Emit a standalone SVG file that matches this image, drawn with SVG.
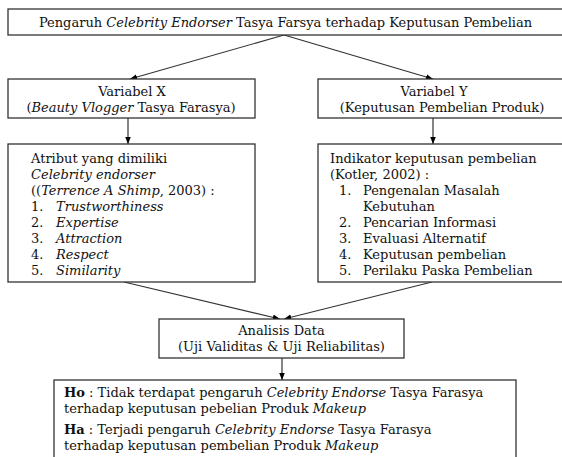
<svg xmlns="http://www.w3.org/2000/svg" width="562" height="457" viewBox="0 0 562 457">
<defs>
<marker id="ah" viewBox="0 0 10 10" refX="10" refY="5" markerWidth="6" markerHeight="6" orient="auto">
<path d="M0,1 L10,5 L0,9 z" fill="#000"/>
</marker>
<style>
.box{fill:#fff;stroke:#333;stroke-width:1.3}
.t{font-family:"DejaVu Serif","Liberation Serif",serif;font-size:13px;fill:#111}
.c{text-anchor:middle}
.i{font-style:italic}
.b{font-weight:bold}
.con{stroke:#333;stroke-width:1.2;fill:none;marker-end:url(#ah)}
</style>
</defs>
<rect width="562" height="457" fill="#fff"/>
<g id="connectors">
<line class="con" x1="284" y1="35" x2="130" y2="79"/>
<line class="con" x1="284" y1="35" x2="433" y2="79"/>
<line class="con" x1="128" y1="118" x2="128" y2="144"/>
<line class="con" x1="433" y1="118" x2="433" y2="144"/>
<line class="con" x1="124" y1="282" x2="280" y2="319"/>
<line class="con" x1="432" y1="282" x2="284" y2="319"/>
<line class="con" x1="282" y1="358" x2="282" y2="380"/>
</g>
<g id="title">
<rect class="box" x="8" y="9" width="560" height="26"/>
<text class="t c" x="285.5" y="27">Pengaruh <tspan class="i">Celebrity Endorser</tspan> Tasya Farsya terhadap Keputusan Pembelian</text>
</g>
<g id="varX">
<rect class="box" x="8" y="79" width="247" height="39"/>
<text class="t c" x="132" y="96">Variabel X</text>
<text class="t c" x="131" y="112">(<tspan class="i">Beauty Vlogger</tspan> Tasya Farasya)</text>
</g>
<g id="varY">
<rect class="box" x="318" y="79" width="250" height="39"/>
<text class="t c" x="434" y="96">Variabel Y</text>
<text class="t c" x="442" y="112">(Keputusan Pembelian Produk)</text>
</g>
<g id="atribut">
<rect class="box" x="8" y="144" width="247" height="138"/>
<text class="t" x="31" y="163">Atribut yang dimiliki</text>
<text class="t i" x="31" y="179">Celebrity endorser</text>
<text class="t" x="31" y="195">((<tspan class="i">Terrence A Shimp</tspan>, 2003) :</text>
<text class="t" x="31" y="211">1.</text><text class="t i" x="56" y="211">Trustworthiness</text>
<text class="t" x="31" y="227">2.</text><text class="t i" x="56" y="227">Expertise</text>
<text class="t" x="31" y="243">3.</text><text class="t i" x="56" y="243">Attraction</text>
<text class="t" x="31" y="259">4.</text><text class="t i" x="56" y="259">Respect</text>
<text class="t" x="31" y="275">5.</text><text class="t i" x="56" y="275">Similarity</text>
</g>
<g id="indikator">
<rect class="box" x="318" y="144" width="250" height="138"/>
<text class="t" x="330" y="163">Indikator keputusan pembelian</text>
<text class="t" x="330" y="179">(Kotler, 2002) :</text>
<text class="t" x="339" y="195">1.</text><text class="t" x="363" y="195">Pengenalan Masalah</text>
<text class="t" x="363" y="211">Kebutuhan</text>
<text class="t" x="339" y="227">2.</text><text class="t" x="363" y="227">Pencarian Informasi</text>
<text class="t" x="339" y="243">3.</text><text class="t" x="363" y="243">Evaluasi Alternatif</text>
<text class="t" x="339" y="259">4.</text><text class="t" x="363" y="259">Keputusan pembelian</text>
<text class="t" x="339" y="275">5.</text><text class="t" x="363" y="275">Perilaku Paska Pembelian</text>
</g>
<g id="analisis">
<rect class="box" x="159" y="319" width="245" height="39"/>
<text class="t c" x="281.5" y="335">Analisis Data</text>
<text class="t c" x="281.5" y="351">(Uji Validitas &amp; Uji Reliabilitas)</text>
</g>
<g id="hipotesis">
<rect class="box" x="54" y="380" width="462" height="85"/>
<text class="t" x="64" y="397"><tspan class="b">Ho</tspan> : Tidak terdapat pengaruh <tspan class="i">Celebrity Endorse</tspan> Tasya Farasya</text>
<text class="t" x="64" y="413">terhadap keputusan pebelian Produk <tspan class="i">Makeup</tspan></text>
<text class="t" x="64" y="434"><tspan class="b">Ha</tspan> : Terjadi pengaruh <tspan class="i">Celebrity Endorse</tspan> Tasya Farasya</text>
<text class="t" x="64" y="450">terhadap keputusan pembelian Produk <tspan class="i">Makeup</tspan></text>
</g>
</svg>
